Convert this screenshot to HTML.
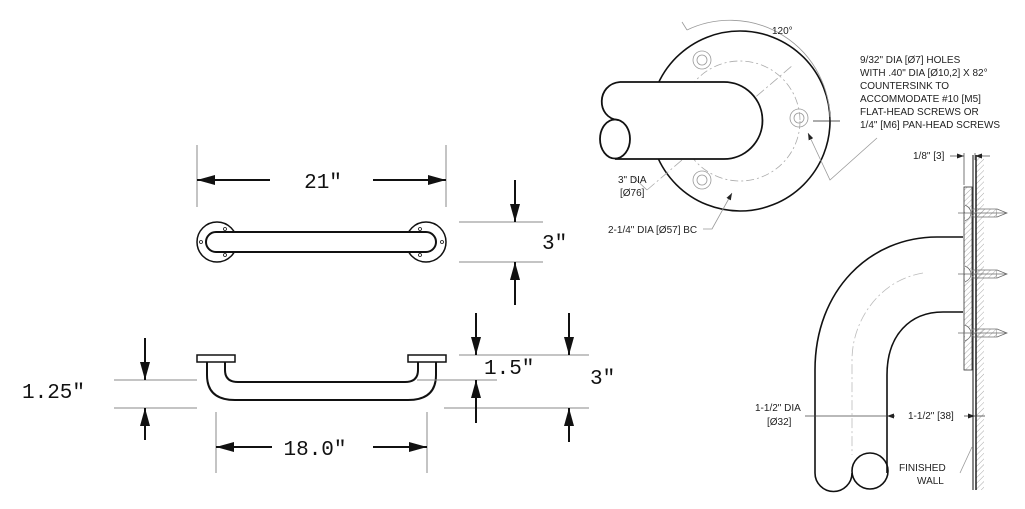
<!DOCTYPE html>
<html><head><meta charset="utf-8"><style>
html,body{margin:0;padding:0;background:#fff}
svg{display:block}
.m{font-family:"Liberation Mono",monospace;font-size:21px;fill:#111}
.s{font-family:"Liberation Sans",sans-serif;font-size:10px;fill:#222}
</style></head><body>
<svg width="1025" height="509" viewBox="0 0 1025 509" xmlns="http://www.w3.org/2000/svg">
<defs>
<marker id="b" markerWidth="18" markerHeight="10" refX="18" refY="5" orient="auto" markerUnits="userSpaceOnUse"><path d="M0,0 L18,5 L0,10 z" fill="#111"/></marker>
<marker id="c" markerWidth="7" markerHeight="5" refX="7" refY="2.5" orient="auto" markerUnits="userSpaceOnUse"><path d="M0,0 L7,2.5 L0,5 z" fill="#222"/></marker>
<pattern id="h" width="4" height="4" patternUnits="userSpaceOnUse" patternTransform="rotate(45)"><line x1="0" y1="0" x2="0" y2="4" stroke="#aaa" stroke-width="1"/></pattern>
</defs>
<g stroke="#111" fill="none" stroke-width="1">
<line x1="197" y1="145" x2="197" y2="207" stroke="#888"/>
<line x1="446" y1="145" x2="446" y2="207" stroke="#888"/>
<line x1="270" y1="180" x2="197" y2="180" stroke-width="2" marker-end="url(#b)"/>
<line x1="373" y1="180" x2="446" y2="180" stroke-width="2" marker-end="url(#b)"/>
<circle cx="217" cy="242" r="20" stroke-width="1.5" fill="#fff"/>
<circle cx="426" cy="242" r="20" stroke-width="1.5" fill="#fff"/>
<rect x="206" y="232" width="230" height="20" rx="10" stroke-width="2" fill="#fff"/>
<g fill="#fff" stroke-width="0.8"><circle cx="225" cy="229" r="1.5"/><circle cx="225" cy="255" r="1.5"/><circle cx="201" cy="242" r="1.5"/><circle cx="420" cy="229" r="1.5"/><circle cx="420" cy="255" r="1.5"/><circle cx="442" cy="242" r="1.5"/></g>
<line x1="459" y1="222" x2="543" y2="222" stroke="#888"/>
<line x1="459" y1="262" x2="543" y2="262" stroke="#888"/>
<line x1="515" y1="180" x2="515" y2="222" stroke-width="2" marker-end="url(#b)"/>
<line x1="515" y1="305" x2="515" y2="262" stroke-width="2" marker-end="url(#b)"/>
<rect x="197" y="355" width="38" height="7" stroke-width="1.5"/>
<rect x="408" y="355" width="38" height="7" stroke-width="1.5"/>
<path d="M207,362 V375 Q207,400 235,400 H408 Q436,400 436,375 V362" stroke-width="2"/>
<path d="M225,362 V370 Q225,382 238,382 H405 Q418,382 418,370 V362" stroke-width="2"/>
<line x1="114" y1="380" x2="197" y2="380" stroke="#888"/>
<line x1="114" y1="408" x2="197" y2="408" stroke="#888"/>
<line x1="145" y1="338" x2="145" y2="380" stroke-width="2" marker-end="url(#b)"/>
<line x1="145" y1="440" x2="145" y2="408" stroke-width="2" marker-end="url(#b)"/>
<line x1="459" y1="355" x2="589" y2="355" stroke="#888"/>
<line x1="417" y1="380" x2="497" y2="380" stroke="#888"/>
<line x1="444" y1="408" x2="589" y2="408" stroke="#888"/>
<line x1="476" y1="313" x2="476" y2="355" stroke-width="2" marker-end="url(#b)"/>
<line x1="476" y1="423" x2="476" y2="380" stroke-width="2" marker-end="url(#b)"/>
<line x1="569" y1="313" x2="569" y2="355" stroke-width="2" marker-end="url(#b)"/>
<line x1="569" y1="442" x2="569" y2="408" stroke-width="2" marker-end="url(#b)"/>
<line x1="216" y1="412" x2="216" y2="473" stroke="#888"/>
<line x1="427" y1="412" x2="427" y2="473" stroke="#888"/>
<line x1="272" y1="447" x2="216" y2="447" stroke-width="2" marker-end="url(#b)"/>
<line x1="373" y1="447" x2="427" y2="447" stroke-width="2" marker-end="url(#b)"/>
</g>
<text class="m" x="323" y="188" text-anchor="middle">21″</text>
<text class="m" x="542" y="249">3″</text>
<text class="m" x="22" y="398">1.25″</text>
<text class="m" x="484" y="374">1.5″</text>
<text class="m" x="590" y="384">3″</text>
<text class="m" x="315" y="455" text-anchor="middle">18.0″</text>

<g fill="none" stroke="#111">
<circle cx="740" cy="121" r="90" stroke-width="1.6" fill="#fff"/>
<circle cx="740" cy="121" r="60" stroke="#aaa" stroke-width="0.8" stroke-dasharray="8,3,2,3"/>
<path d="M687,30 A100,100 0 0 1 830,120" stroke="#999" stroke-width="0.8"/>
<line x1="687" y1="30" x2="682" y2="22" stroke="#999" stroke-width="0.8"/>
<g stroke="#999" stroke-width="0.8"><circle cx="702" cy="60" r="9"/><circle cx="702" cy="60" r="5"/><circle cx="799" cy="118" r="9"/><circle cx="799" cy="118" r="5"/><circle cx="702" cy="180" r="9"/><circle cx="702" cy="180" r="5"/></g>
<line x1="647" y1="190" x2="793" y2="65" stroke="#aaa" stroke-width="0.8" stroke-dasharray="10,3,2,3"/>
<path d="M620,82 H724 A38.5,38.5 0 0 1 724,159 H615" stroke-width="1.8" fill="#fff"/>
<path d="M620,82 C596,84 596,118 618,120" stroke-width="1.8"/>
<ellipse cx="615" cy="139" rx="15" ry="19.5" stroke-width="1.8"/>
<line x1="813" y1="121" x2="840" y2="121" stroke="#222" stroke-width="0.8"/>
<line x1="830" y1="121" x2="830" y2="117" stroke="#222" stroke-width="0.8"/>
<path d="M877,138 L830,180 L808,133" stroke="#999" stroke-width="0.8" marker-end="url(#c)"/>
<path d="M647,190 L632,176" stroke="#999" stroke-width="0.8"/>
<path d="M703,229 L712,229 L732,193" stroke="#999" stroke-width="0.8" marker-end="url(#c)"/>
</g>
<text class="s" x="772" y="34">120°</text>
<g class="s"><text x="860" y="63">9/32" DIA [Ø7] HOLES</text><text x="860" y="76">WITH .40" DIA [Ø10,2] X 82°</text><text x="860" y="89">COUNTERSINK TO</text><text x="860" y="102">ACCOMMODATE #10 [M5]</text><text x="860" y="115">FLAT-HEAD SCREWS OR</text><text x="860" y="128">1/4" [M6] PAN-HEAD SCREWS</text></g>
<text class="s" x="618" y="183">3" DIA</text><text class="s" x="620" y="196">[Ø76]</text>
<text class="s" x="608" y="233">2-1/4" DIA [Ø57] BC</text>

<rect x="976" y="155" width="8" height="335" fill="url(#h)"/>
<line x1="973" y1="155" x2="973" y2="490" stroke="#111" stroke-width="1"/>
<line x1="976" y1="155" x2="976" y2="490" stroke="#111" stroke-width="1.4"/>
<rect x="964" y="187" width="8" height="183" fill="url(#h)" stroke="#333" stroke-width="0.8"/>
<g stroke="#555" stroke-width="0.8" fill="none">
<line x1="964" y1="153" x2="964" y2="185"/><line x1="975" y1="153" x2="975" y2="160"/>
<line x1="950" y1="156" x2="964" y2="156" marker-end="url(#c)"/><line x1="990" y1="156" x2="975" y2="156" marker-end="url(#c)"/>
</g>
<g stroke="#666" stroke-width="0.7" fill="#fff">
<g id="sc"><path d="M965,205 q6,3 6,8 q0,5 -6,8" /><rect x="972" y="209" width="25" height="8" fill="url(#h)"/><path d="M997,209 L1007,213 L997,217"/><line x1="958" y1="213" x2="1007" y2="213"/></g>
<use href="#sc" y="61"/><use href="#sc" y="120"/>
</g>
<g fill="none" stroke="#111" stroke-width="1.6">
<path d="M963,237 H937 C870,237 815,290 815,370 V473 A18,18 0 0 0 852,473"/>
<path d="M963,312 H943 C910,312 887,335 887,375 V473"/>
<circle cx="870" cy="471" r="18"/>
</g>
<path d="M923,273 C880,280 852,320 852,360 V455" fill="none" stroke="#bbb" stroke-width="0.8" stroke-dasharray="10,3,2,3"/>
<g stroke="#444" stroke-width="0.8" fill="none">
<line x1="805" y1="416" x2="887" y2="416"/>
<line x1="895" y1="416" x2="887" y2="416" marker-end="url(#c)"/>
<line x1="964" y1="416" x2="975" y2="416" marker-end="url(#c)"/>
<line x1="975" y1="416" x2="985" y2="416"/>
<path d="M960,473 L972,447" stroke="#999"/>
</g>
<text class="s" x="755" y="411">1-1/2" DIA</text><text class="s" x="767" y="425">[Ø32]</text>
<text class="s" x="908" y="419">1-1/2" [38]</text>
<text class="s" x="913" y="159">1/8" [3]</text>
<text class="s" x="899" y="471">FINISHED</text><text class="s" x="917" y="484">WALL</text>
</svg>
</body></html>
